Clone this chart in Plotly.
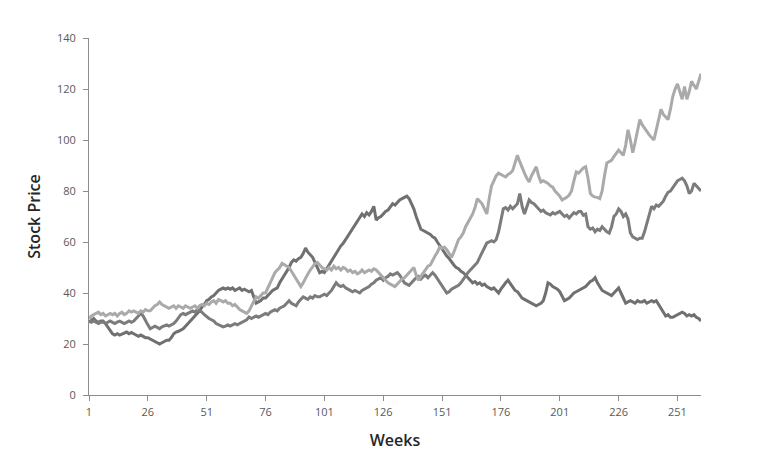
import plotly.graph_objects as go

weeks = list(range(1, 262))

light = [
    30, 31, 31.5, 32, 32.5, 31.5, 32, 31, 31.5, 32,
    31.5, 32, 31, 32, 32.5, 31.5, 32, 33, 32.5, 33,
    32.5, 32, 33, 32.5, 33.5, 33, 33, 34, 35, 35.5,
    36.5, 35.5, 35, 34.5, 34, 34.5, 35, 34, 35, 34.5,
    34, 35, 34.5, 34, 34.5, 35, 34, 35, 35.5, 35,
    36, 35.5, 36.5, 37, 36, 37.5, 37, 36.5, 37, 36,
    36, 35, 35.5, 34.5, 33.5, 33, 32.5, 32, 33, 35,
    37, 38.5, 38, 39, 40, 40, 42, 44, 46, 48,
    49, 50, 51.6, 51, 50.5, 50, 48.5, 47, 46, 44,
    42.5, 44, 46, 47.5, 49, 50.5, 51.5, 52, 51, 50,
    49.5, 49, 50, 49, 50.5, 49.5, 50, 49, 50, 49.5,
    48.5, 49, 48, 48.5, 47.5, 48, 49, 48, 48.5, 49,
    48.5, 49.5, 49, 48, 47, 46, 45, 44, 43.5, 43,
    42.5, 43.5, 44.5, 45.5, 46, 47, 48, 49, 50, 47,
    45, 46.5, 48, 49, 50.5, 51, 53, 54.5, 56, 58,
    57.5, 58, 57, 55.5, 54, 56, 58.5, 61, 62, 63.5,
    66, 67.5, 69, 71, 73.5, 77, 76, 75, 73, 71,
    77, 82, 84, 86, 87, 86.5, 86, 85.5, 86.5, 87,
    88, 91, 94, 91.5, 89, 87, 85, 83.5, 86, 88,
    89.5, 86, 83.5, 84, 83.5, 83, 82, 81.5, 80, 79,
    78, 76.5, 77, 77.5, 78.4, 80, 84, 87.5, 87, 88,
    89, 89.5, 85, 79, 78, 77.6, 77.5, 77, 80, 86,
    91, 91.5, 92, 93.5, 95, 96, 95, 94, 98, 104,
    100, 95, 99, 104, 108, 106, 104.5, 103, 102, 101,
    100, 104, 108, 112, 110, 109, 108, 112, 117, 120,
    122, 119, 116, 121, 116, 119, 123, 121.5, 120, 123,
    126,
]

medium = [
    29, 28.5, 29, 28.5, 28, 28.5, 28.6, 28, 28.5, 29,
    28.5, 28, 28.6, 29, 28.5, 28, 28.5, 29, 28.5, 29,
    30, 31, 32, 31, 29, 27.5, 26, 26.5, 27, 26.5,
    26, 26.7, 27, 27.5, 27, 27.5, 28, 29, 30.5, 31.5,
    32, 31.5, 32, 32.5, 33, 32.5, 33.5, 33, 32.5, 31.5,
    30.6, 30, 29.5, 29, 28, 27.5, 27, 26.7, 27, 27.5,
    27, 27.5, 28, 27.5, 28, 28.5, 29, 29.5, 30.6, 30,
    30.5, 31, 30.5, 31, 31.5, 32, 31.5, 32.5, 33, 33.5,
    33, 34, 34.5, 35, 36, 37, 36, 35.5, 35, 36.5,
    37.5, 38.5, 38, 37.5, 38.5, 38, 39, 38.5, 38.5, 39,
    39.5, 39, 40, 41, 42.5, 44, 43, 42.5, 43, 42,
    41.5, 41, 40.5, 41, 40.5, 40, 41, 41.5, 42, 42.5,
    43.5, 44, 45, 45.5, 46, 45, 46, 46.5, 47.5, 47,
    47.5, 48, 47, 45.5, 44, 43.5, 43, 44, 45, 46,
    46.5, 45.5, 46.5, 47, 46, 47, 48, 47, 45.5, 44,
    42.5, 41, 40, 40.5, 41.5, 42, 42.5, 43, 44, 45.5,
    46.5, 48, 49, 50, 51, 52, 54, 56, 58, 59.6,
    60, 60.5, 60, 61, 64, 69, 73, 73.5, 72.5, 74,
    73, 74, 75, 79, 74, 71, 74, 76.5, 75.5, 75,
    74, 73, 72, 72.5, 71.5, 71, 70.6, 71.5, 71, 71.5,
    72, 71, 70, 70.5, 69.4, 70.5, 71.5, 71, 72, 72,
    70.5, 71, 66, 65, 65.5, 64, 65, 64.5, 66, 65,
    64, 63.5, 66, 70, 71, 73, 72, 70, 71, 69,
    63.5, 62, 61.5, 61, 61.5, 61.5, 64, 67, 70, 74,
    73, 74.5, 74, 75, 76, 78, 79.5, 80, 81.5, 83,
    84, 84.5, 85, 84, 82, 79, 80, 83, 82, 81,
    80,
]

dark = [
    28.6, 29.5, 30, 29, 28.5, 29, 29, 28, 26.5, 25.5,
    24, 23.5, 24, 23.5, 24, 24.5, 24.7, 24, 24.5, 24,
    23.5, 23, 23.5, 23, 22.5, 22.5, 22, 21.5, 21, 20.5,
    20, 20.5, 21, 21.5, 21.5, 22.5, 24, 24.7, 25, 25.5,
    26, 27, 28, 29, 30, 31, 32, 33, 34.5, 35.5,
    37, 37.5, 38.5, 39, 40, 41, 41.5, 42, 41.5, 42,
    41.5, 42, 41, 41.5, 42, 41, 41.5, 41, 40.5, 41,
    38, 36, 36.5, 37, 38, 38, 39, 40, 41, 41.5,
    42, 44, 45.5, 47, 48, 50, 52, 53, 52.5, 53.5,
    54, 55.5, 57.6, 56, 55, 54, 52, 50, 48, 48.5,
    48, 49.5, 51, 53, 54.5, 56, 57, 58.5, 59.5, 61,
    62, 63.5, 65, 67, 68.5, 70, 71, 70, 71.5, 70.6,
    72, 74, 68.6, 69.5, 70, 71, 72, 72.5, 74, 75,
    74.5, 75.5, 76.5, 77, 77.5, 78, 77, 75, 73, 70,
    67, 65, 64.5, 64, 63.5, 63, 62, 61.5, 60, 58.5,
    57, 56, 54.5, 53.5, 52, 51, 50, 49.5, 48.5, 48,
    47, 46, 45, 44, 44.5, 43.5, 44, 43, 43.5, 42.5,
    42, 41.5, 42, 41, 40, 41.5, 43, 44, 45, 43.5,
    42, 41, 40.5, 39, 38, 37.5, 37, 36.5, 36, 35.5,
    35, 35.5, 36, 37, 40, 44, 43.5, 42.5, 42, 41.5,
    40.5, 39, 37, 37.5, 38, 39, 40, 40.5, 41, 41.5,
    42, 42.5, 43.5, 44.5, 45, 46, 44, 42.5, 41, 40.5,
    40, 39.5, 39, 40, 41, 42, 40, 38, 36, 36.5,
    37, 36.5, 36, 37, 36.5, 36.5, 37, 36, 36.5, 37,
    36.5, 37, 35.5, 34, 32.5, 31, 31.5, 30.5, 30.5, 31,
    31.5, 32, 32.5, 32, 31, 31.5, 31, 31.5, 30.5, 30,
    29,
]

x_ticks = [1, 26, 51, 76, 101, 126, 151, 176, 201, 226, 251]
y_ticks = [0, 20, 40, 60, 80, 100, 120, 140]

fig = go.Figure()
fig.add_trace(go.Scatter(x=weeks[:len(dark)], y=dark, mode="lines",
                         line=dict(color="#707070", width=3), showlegend=False))
fig.add_trace(go.Scatter(x=weeks[:len(medium)], y=medium, mode="lines",
                         line=dict(color="#7c7c7c", width=3), showlegend=False))
fig.add_trace(go.Scatter(x=weeks[:len(light)], y=light, mode="lines",
                         line=dict(color="#aaaaaa", width=3), showlegend=False))

axis_font = dict(family="Open Sans, Liberation Sans, sans-serif", size=11, color="#595959")
title_font = dict(family="Open Sans, Liberation Sans, sans-serif", size=16, color="#262626",
                  weight=600)

fig.update_layout(
    width=784, height=474,
    margin=dict(l=89, r=83, t=38, b=79),
    paper_bgcolor="white", plot_bgcolor="white",
    xaxis=dict(
        range=[1, 261], tickvals=x_ticks, ticktext=[str(t) for t in x_ticks],
        showgrid=False, zeroline=False, showline=True, linecolor="#8c8c8c", linewidth=1,
        ticks="outside", ticklen=5, tickcolor="#8c8c8c", tickfont=axis_font,
        ticklabelstandoff=2,
        title=dict(text="Weeks", font=title_font, standoff=16),
    ),
    yaxis=dict(
        range=[0, 140], tickvals=y_ticks,
        showgrid=False, zeroline=False, showline=True, linecolor="#8c8c8c", linewidth=1,
        ticks="outside", ticklen=5, tickcolor="#8c8c8c", tickfont=axis_font,
        ticklabelstandoff=5,
        title=dict(text="Stock Price", font=title_font, standoff=12),
    ),
)

fig.write_html("out.html")
